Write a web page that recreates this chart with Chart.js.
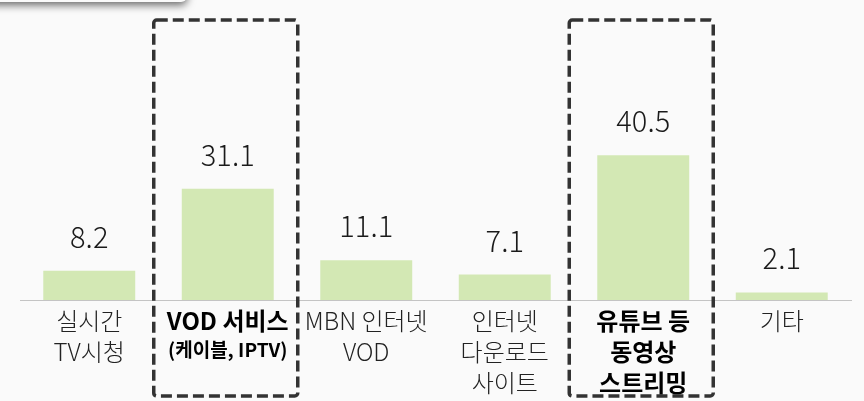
<!DOCTYPE html>
<html>
<head>
<meta charset="utf-8">
<script src="https://cdn.jsdelivr.net/npm/chart.js@4"></script>
<style>
  html, body { margin: 0; padding: 0; background: #fafafa; }
  #wrap { width: 864px; height: 401px; position: relative; }
</style>
</head>
<body>
<div id="wrap"><canvas id="mediaChart" width="864" height="401"></canvas></div>
<script>
// categorie e valori (%)
const categories = ['실시간 TV시청', 'VOD 서비스', 'MBN 인터넷 VOD', '인터넷 다운로드 사이트', '유튜브 등 동영상 스트리밍', '기타'];
const values = [8.2, 31.1, 11.1, 7.1, 40.5, 2.1];
// etichette asse x su più righe
const tickLines = [
    ['실시간', 'TV시청'],
    ['VOD 서비스', '(케이블, IPTV)'],
    ['MBN 인터넷', 'VOD'],
    ['인터넷', '다운로드', '사이트'],
    ['유튜브 등', '동영상', '스트리밍'],
    ['기타']
];
// categorie evidenziate col riquadro tratteggiato
const highlighted = [1, 4];

const FONT = "'Noto Sans CJK KR', 'Noto Sans', sans-serif";

// ombra della barra in alto a sinistra
const topShadow = {
    id: 'topShadow',
    beforeDraw(chart) {
        const ctx = chart.ctx;
        ctx.save();
        ctx.shadowColor = 'rgba(0,0,0,0.6)';
        ctx.shadowBlur = 8;
        ctx.shadowOffsetY = 3;
        ctx.fillStyle = '#fafafa';
        ctx.beginPath();
        ctx.roundRect(-20, -40, 207, 42, 6);
        ctx.fill();
        ctx.restore();
    }
};

// valori sopra le barre + etichette x + riquadri
const decorations = {
    id: 'decorations',
    afterDatasetsDraw(chart) {
        const ctx = chart.ctx;
        const meta = chart.getDatasetMeta(0);
        const xs = chart.scales.x;
        ctx.save();
        ctx.fillStyle = '#1a1a1a';
        ctx.textAlign = 'center';
        ctx.textBaseline = 'alphabetic';
        ctx.font = `300 29px ${FONT}`;
        meta.data.forEach((bar, i) => {
            ctx.fillText(values[i].toFixed(1), bar.x, bar.y - 23);
        });

        ctx.textBaseline = 'middle';
        tickLines.forEach((lines, i) => {
            const x = xs.getPixelForValue(i);
            lines.forEach((txt, j) => {
                const bold = highlighted.includes(i);
                let size = 24;
                if (i === 1 && j === 1) size = 19;
                ctx.font = `${bold ? 'bold ' : '300 '}${size}px ${FONT}`;
                ctx.fillStyle = bold ? '#000' : '#222';
                let y = 321 + j * 31;
                if (i === 1 && j === 1) y = 350;
                ctx.fillText(txt, x, y);
            });
        });

        // riquadri tratteggiati
        ctx.strokeStyle = '#333';
        ctx.lineWidth = 3.5;
        ctx.setLineDash([11, 5]);
        ctx.lineJoin = 'round';
        highlighted.forEach(i => {
            const cx = xs.getPixelForValue(i) - 2;
            ctx.beginPath();
            ctx.roundRect(cx - 72, 20, 144, 376, 3);
            ctx.stroke();
        });
        ctx.restore();
    }
};

new Chart(document.getElementById('mediaChart'), {
    type: 'bar',
    data: {
        labels: categories,
        datasets: [{
            data: values,
            backgroundColor: 'rgb(211,232,180)',
            borderWidth: 0,
            categoryPercentage: 1,
            barPercentage: 0.664
        }]
    },
    options: {
        responsive: false,
        animation: false,
        events: [],
        layout: { padding: { left: 20, right: 13, top: 14, bottom: 0 } },
        plugins: { legend: { display: false }, tooltip: { enabled: false } },
        scales: {
            x: {
                grid: { display: false },
                border: { display: true, color: '#c4c4c4', width: 1 },
                ticks: { display: false },
                afterFit(scale) { scale.height = 101; }
            },
            y: {
                display: false,
                min: 0,
                max: 80
            }
        }
    },
    plugins: [topShadow, decorations]
});
</script>
</body>
</html>
